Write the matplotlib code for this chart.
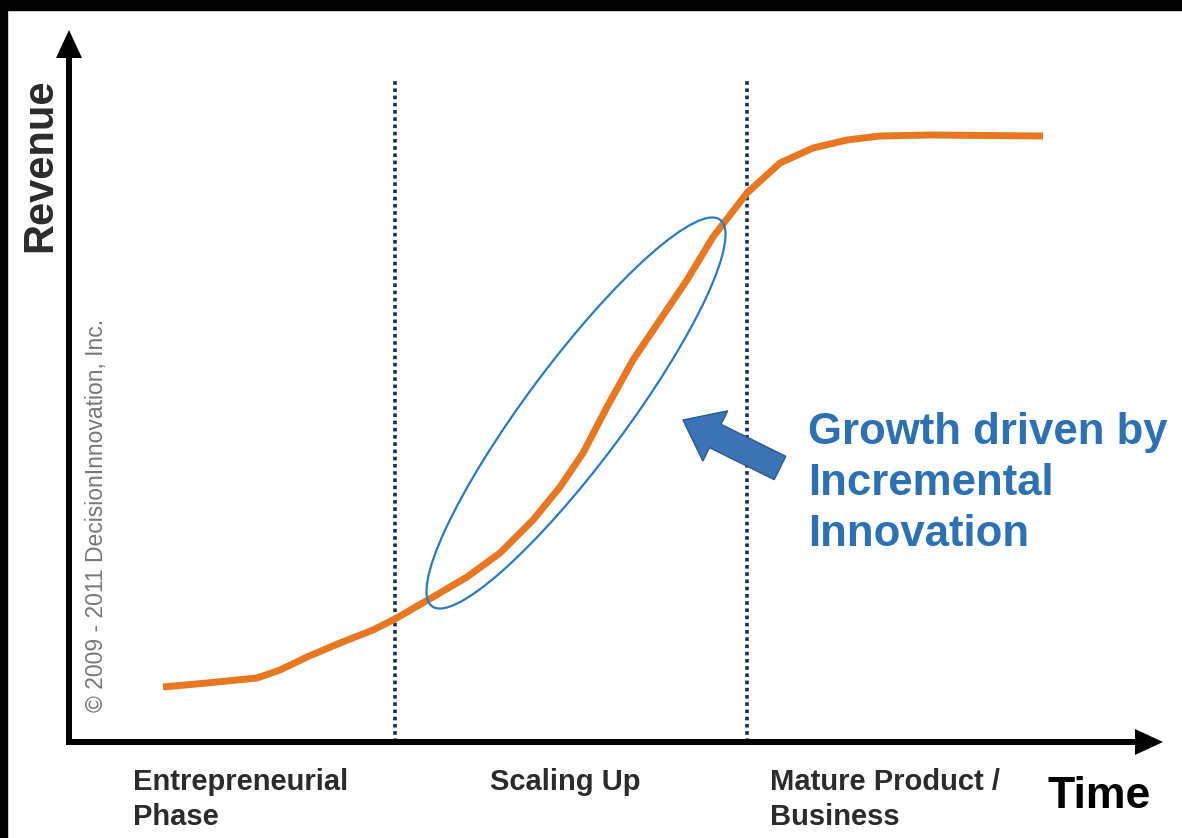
import matplotlib.pyplot as plt
import numpy as np
from matplotlib.patches import Ellipse, FancyArrow, Rectangle

# figure works in pixel units: x to the right, y upwards (838 px high)
W, H = 1182, 838

# revenue curve (time, revenue)
time = [163, 207, 257, 280, 307, 340, 373, 395, 433, 467, 500, 533, 560,
        583, 607, 633, 660, 687, 713, 747, 780, 813, 847, 880, 930, 1043]
revenue = [151, 155, 160, 168, 181, 195, 208, 219, 241, 261, 285, 318, 351,
           385, 431, 478, 518, 558, 601, 645, 675, 690, 698, 702, 703, 702]

phase_bounds = [395, 747]
phase_labels = ["Entrepreneurial\nPhase", "Scaling Up", "Mature Product /\nBusiness"]
phase_label_x = [133, 490, 770]

callout = "Growth driven by\nIncremental\nInnovation"
copyright_txt = "\u00a9 2009 - 2011 DecisionInnovation, Inc."

ORANGE = "#e87722"
BLUE = "#2b71b3"
NAVY = "#1c2b55"
TXT = "#2b2b2b"
SANS = ["Liberation Sans", "DejaVu Sans"]

fig = plt.figure(figsize=(W / 100, H / 100), dpi=100)
ax = fig.add_axes([0, 0, 1, 1])
ax.set_xlim(0, W)
ax.set_ylim(0, H)
ax.axis("off")

# black frame strips of the screenshot
ax.add_patch(Rectangle((0, 0), 7, H, color="black", zorder=10))
ax.add_patch(Rectangle((0, H - 10), W, 10, color="black", zorder=10))

# axes with arrow heads
ax.add_patch(FancyArrow(69, 96, 0, 712, width=6, head_width=26, head_length=28,
                        length_includes_head=True, color="black", lw=0, zorder=5))
ax.add_patch(FancyArrow(66, 96, 1097, 0, width=6, head_width=26, head_length=28,
                        length_includes_head=True, color="black", lw=0, zorder=5))

# phase boundaries
for xb in phase_bounds:
    ax.plot([xb, xb], [96, 758], color=NAVY, lw=2.6, ls=(0, (1.0, 1.0)), zorder=2)

# s-curve
ax.plot(time, revenue, color=ORANGE, lw=5, solid_capstyle="butt",
        solid_joinstyle="round", zorder=3)

# ellipse round the scaling-up segment
ax.add_patch(Ellipse((576, 425), width=482, height=100, angle=53.3,
                     fill=False, ec="#2a7bbf", lw=1.6, zorder=4))

# block arrow pointing at the ellipse
ax.add_patch(FancyArrow(780, 370, -97, 48, width=26, head_width=56, head_length=36,
                        length_includes_head=True, fc="#3b73b5", ec="#2c5a92",
                        lw=1, zorder=6))

ax.text(808, 426, callout, color=BLUE, fontsize=31.5, fontweight="bold",
        family=SANS, ha="left", va="top", linespacing=1.32, zorder=7)

ax.text(40, 673, "Revenue", rotation=90, fontsize=30, fontweight="bold",
        family=SANS, color=TXT, ha="center", va="center")
ax.text(97, 323, copyright_txt, rotation=90, fontsize=16.5, color="#777777",
        family=SANS, ha="center", va="center")

for lbl, xl in zip(phase_labels, phase_label_x):
    ax.text(xl, 70, lbl, fontsize=21, fontweight="bold", family=SANS,
            color=TXT, ha="left", va="top", linespacing=1.3)

ax.text(1048, 42, "Time", fontsize=32, fontweight="bold", family=SANS,
        color="black", ha="left", va="center")

fig.savefig("out.png", dpi=100, facecolor="white")
